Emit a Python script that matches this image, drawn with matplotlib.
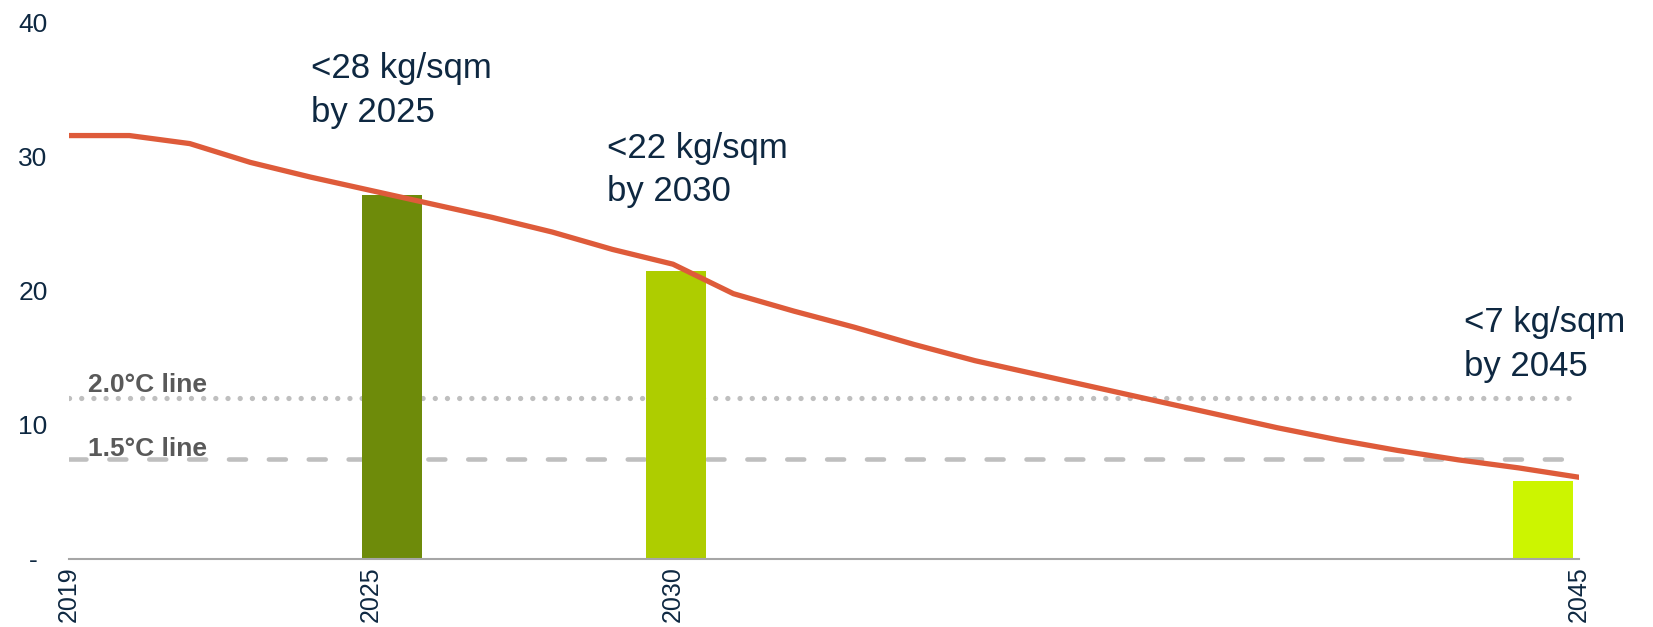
import numpy as np
import matplotlib
matplotlib.use("Agg")
import matplotlib.pyplot as plt

# intensity pathway (kg CO2e / sqm), one value per step on the category axis
pathway = [31.6, 31.6, 31.0, 29.6, 28.5, 27.5, 26.5, 25.5, 24.4, 23.1, 22.0,
           19.8, 18.5, 17.3, 16.0, 14.8, 13.8, 12.8, 11.8, 10.8, 9.8,
           8.9, 8.1, 7.4, 6.8, 6.1]
tick_idx = [0, 5, 10, 25]
tick_labels = ["2019", "2025", "2030", "2045"]

targets = [27.2, 21.5, 5.8]
target_labels = ["<28 kg/sqm\nby 2025", "<22 kg/sqm\nby 2030", "<7 kg/sqm\nby 2045"]
target_colors = ["#6E8B0A", "#AECD00", "#CCF500"]
bar_pos = [5.35, 10.05, 24.4]
label_pos = [(4.0, 37.8), (8.9, 31.9), (23.1, 18.9)]

line_20 = 12.0
line_15 = 7.5

navy = "#0E2841"
plt.rcParams["font.family"] = ["Liberation Sans", "DejaVu Sans"]

fig = plt.figure(figsize=(16.53, 6.27), dpi=100)
ax = fig.add_axes([69 / 1653, 1 - 559 / 627, (1579 - 69) / 1653, (559 - 23) / 627])

x = np.arange(len(pathway))

ax.axhline(line_20, color="#BFBFBF", lw=3.8, ls=(0, (0.01, 2.3)),
           dash_capstyle="round", zorder=1)
ax.axhline(line_15, color="#BFBFBF", lw=3.3, ls=(0, (3.7, 5.0)),
           dash_capstyle="round", zorder=1)

ax.bar(bar_pos, targets, width=1.0, color=target_colors, zorder=2)
ax.plot(x, pathway, color="#DE5B3A", lw=3.8, solid_capstyle="round",
        solid_joinstyle="round", zorder=3)

for (tx, ty), txt in zip(label_pos, target_labels):
    ax.text(tx, ty, txt, fontsize=25, color=navy, va="top", ha="left",
            linespacing=1.42, zorder=4)

ax.text(0.31, line_20 + 0.5, "2.0°C line", fontsize=19, fontweight="bold",
        color="#595959", va="baseline", zorder=4)
ax.text(0.31, line_15 + 0.2, "1.5°C line", fontsize=19, fontweight="bold",
        color="#595959", va="baseline", zorder=4)

ax.set_xlim(0, 25)
ax.set_ylim(0, 40)
ax.set_xticks(tick_idx)
ax.set_xticklabels(tick_labels, rotation=90, fontsize=18, color=navy)
ax.set_yticks([0, 10, 20, 30, 40])
ax.set_yticklabels(["-", "10", "20", "30", "40"], fontsize=19, color=navy, ha="center")
ax.tick_params(length=0)
ax.tick_params(axis="y", pad=26)
ax.tick_params(axis="x", pad=5)

for s in ["top", "right", "left"]:
    ax.spines[s].set_visible(False)
ax.spines["bottom"].set_color("#A6A6A6")
ax.spines["bottom"].set_linewidth(1.5)

fig.savefig("out.png", dpi=100)
